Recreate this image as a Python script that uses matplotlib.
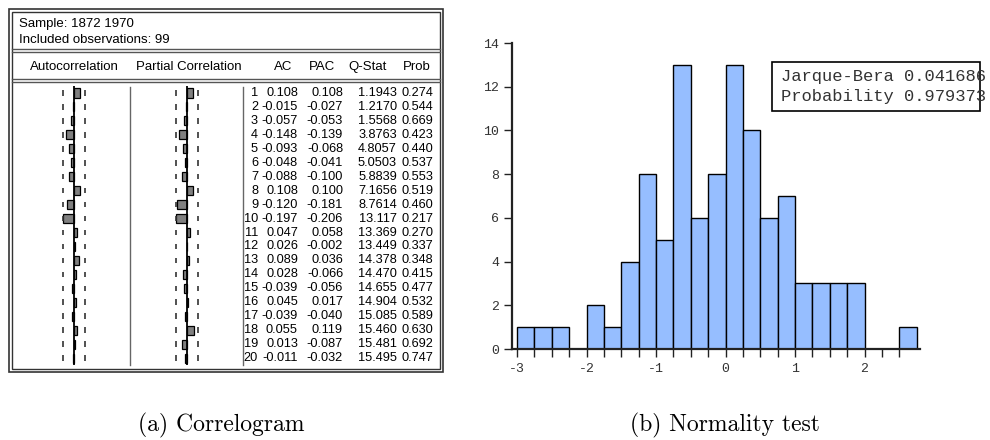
import numpy as np
import matplotlib
matplotlib.use("Agg")
import matplotlib.pyplot as plt
from matplotlib.patches import Rectangle
from matplotlib.ticker import MultipleLocator, FixedLocator


# Correlogram values (EViews output)
lags = list(range(1, 21))
ac = [0.108, -0.015, -0.057, -0.148, -0.093, -0.048, -0.088, 0.108, -0.120, -0.197,
      0.047, 0.026, 0.089, 0.028, -0.039, 0.045, -0.039, 0.055, 0.013, -0.011]
pac = [0.108, -0.027, -0.053, -0.139, -0.068, -0.041, -0.100, 0.100, -0.181, -0.206,
       0.058, -0.002, 0.036, -0.066, -0.056, 0.017, -0.040, 0.119, -0.087, -0.032]
qstat = [1.1943, 1.2170, 1.5568, 3.8763, 4.8057, 5.0503, 5.8839, 7.1656, 8.7614, 13.117,
         13.369, 13.449, 14.378, 14.470, 14.655, 14.904, 15.085, 15.460, 15.481, 15.495]
prob = [0.274, 0.544, 0.669, 0.423, 0.440, 0.537, 0.553, 0.519, 0.460, 0.217,
        0.270, 0.337, 0.348, 0.415, 0.477, 0.532, 0.589, 0.630, 0.692, 0.747]
n_obs = 99
bound = 2 / np.sqrt(n_obs)

# Histogram of residuals
counts = [1, 1, 1, 0, 2, 1, 4, 8, 5, 13, 6, 8, 13, 10, 6, 7, 3, 3, 3, 3, 0, 0, 1]
bin_start = -3.0
bin_width = 0.25
jb_stat = 0.041686
jb_prob = 0.979373

W, H = 990, 440
fig = plt.figure(figsize=(W / 100, H / 100), dpi=100)


def px_axes(x0, y0, x1, y1):
    # axes from pixel box (top-left origin)
    return fig.add_axes([x0 / W, 1 - y1 / H, (x1 - x0) / W, (y1 - y0) / H])


tab_font = dict(family="Liberation Sans", fontsize=9.5, color="black")
row_font = dict(family="Liberation Sans", fontsize=9.2, color="black")

# ---- correlogram bars
row0, row_step = 93, 13.95
top_px = row0 - 0.5 * row_step
bot_px = row0 + 19.5 * row_step
scale = 55.0  # px per unit correlation

for vals, xc in ((ac, 74), (pac, 187)):
    a = px_axes(xc - 50, top_px, xc + 50, bot_px)
    a.set_xlim(-50 / scale, 50 / scale)
    a.set_ylim(20.5, 0.5)
    a.axis("off")
    a.patch.set_alpha(0)
    a.barh(lags, vals, height=0.65, color="#808080", edgecolor="black", linewidth=0.9, zorder=2)
    a.axvline(0, color="black", lw=1.3, zorder=3)
    for s in (-bound, bound):
        a.vlines([s] * len(lags), np.array(lags) - 0.2, np.array(lags) + 0.2,
                 color="#333333", lw=1.2)

# ---- histogram
hx0, hx1, hy0, hy1 = 512, 920, 43, 349
ax = px_axes(hx0, hy0, hx1, hy1)
ppu = 69.5
xmin = -3 - 5 / ppu
ax.set_xlim(xmin, xmin + (hx1 - hx0) / ppu)
ax.set_ylim(0, 14)
lefts = bin_start + bin_width * np.arange(len(counts))
ax.bar(lefts, counts, width=bin_width, align="edge", color="#96BEFF",
       edgecolor="black", linewidth=1.0, zorder=2)
for s in ("top", "right"):
    ax.spines[s].set_visible(False)
for s in ("left", "bottom"):
    ax.spines[s].set_color("#222222")
    ax.spines[s].set_linewidth(1.6)
    ax.spines[s].set_zorder(3)
ax.yaxis.set_major_locator(MultipleLocator(2))
ax.xaxis.set_major_locator(FixedLocator([-3, -2, -1, 0, 1, 2]))
ax.xaxis.set_minor_locator(FixedLocator(lefts))
ax.tick_params(axis="both", which="both", direction="out", length=6, width=1.0,
               color="#222222", labelcolor="#333333", labelsize=9.5)
ax.tick_params(axis="x", pad=4)
ax.tick_params(axis="y", pad=3)
ax.set_xticklabels(["-3", "-2", "-1", "0", "1", "2"])
for lab in ax.get_xticklabels() + ax.get_yticklabels():
    lab.set_family("Liberation Mono")

# ---- overlay in pixel coordinates
ov = fig.add_axes([0, 0, 1, 1], zorder=10)
ov.set_xlim(0, W)
ov.set_ylim(H, 0)
ov.axis("off")
ov.patch.set_alpha(0)

frame_c = "#333333"
ov.add_patch(Rectangle((9, 9), 434, 363, fill=False, ec=frame_c, lw=1.2))
ov.add_patch(Rectangle((12, 12), 428, 357, fill=False, ec=frame_c, lw=1.0))
for y in (49, 52, 79, 82):
    ov.plot([12, 440], [y, y], color="#555555", lw=1.0)
for x in (130, 243):
    ov.plot([x, x], [87, 365], color="#666666", lw=1.0)

ov.text(19, 24, "Sample: 1872 1970", ha="left", va="center", **tab_font)
ov.text(19, 40, "Included observations: %d" % n_obs, ha="left", va="center", **tab_font)
ov.text(74, 67, "Autocorrelation", ha="center", va="center", **tab_font)
ov.text(189, 67, "Partial Correlation", ha="center", va="center", **tab_font)
for lbl, xc in (("AC", 283), ("PAC", 322), ("Q-Stat", 368), ("Prob", 417)):
    ov.text(xc, 67, lbl, ha="center", va="center", **tab_font)

for i, lag in enumerate(lags):
    y = row0 + i * row_step
    ov.text(258, y, str(lag), ha="right", va="center", **row_font)
    ov.text(298, y, "%.3f" % ac[i], ha="right", va="center", **row_font)
    ov.text(343, y, "%.3f" % pac[i], ha="right", va="center", **row_font)
    ov.text(397, y, "%#.5g" % qstat[i], ha="right", va="center", **row_font)
    ov.text(433, y, "%.3f" % prob[i], ha="right", va="center", **row_font)

# Jarque-Bera box
ov.add_patch(Rectangle((772, 62), 208, 49, fill=False, ec="black", lw=1.2))
mono = dict(family="Liberation Mono", fontsize=12.3, color="#333333")
ov.text(781, 76, "Jarque-Bera %.6f" % jb_stat, ha="left", va="center", **mono)
ov.text(781, 96, "Probability %.6f" % jb_prob, ha="left", va="center", **mono)

# captions
cap = dict(family="cmr10", fontsize=17, color="black")
ov.text(221, 425, "(a) Correlogram", ha="center", va="center", **cap)
ov.text(725, 425, "(b) Normality test", ha="center", va="center", **cap)

fig.savefig("out.png", dpi=100)
